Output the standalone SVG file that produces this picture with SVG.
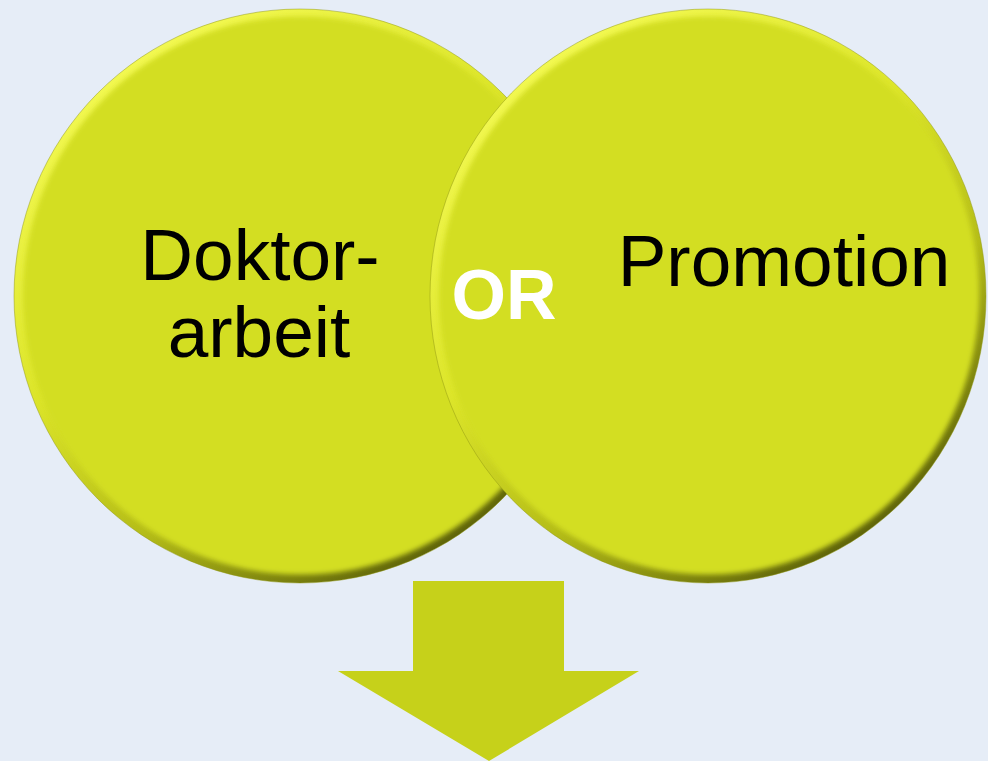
<svg xmlns="http://www.w3.org/2000/svg" width="988" height="761" viewBox="0 0 988 761">
  <defs>
    <linearGradient id="rim" x1="0.2" y1="0.05" x2="0.8" y2="0.95">
      <stop offset="0" stop-color="#F4FA55"/>
      <stop offset="0.4" stop-color="#DCE52A"/>
      <stop offset="0.68" stop-color="#B4BC18"/>
      <stop offset="1" stop-color="#545908"/>
    </linearGradient>
    <filter id="soft" x="-5%" y="-5%" width="110%" height="110%">
      <feGaussianBlur stdDeviation="2.5"/>
    </filter>
    <style>
      .rim { fill: url(#rim); stroke: #8F9510; stroke-width: 0.8; stroke-opacity: 0.6; }
      .face { fill: #D3DE22; filter: url(#soft); }
      .lbl { font-family: "Liberation Sans", Arial, sans-serif; font-size: 73px; fill: #000000; text-anchor: middle; }
      .or { font-family: "Liberation Sans", Arial, sans-serif; font-size: 70px; font-weight: bold; fill: #FFFFFF; text-anchor: middle; }
      .arrow { fill: #C6D11A; }
    </style>
  </defs>
  <rect x="0" y="0" width="988" height="761" fill="#E6EDF7"/>

  <g id="node-doktorarbeit">
    <ellipse class="rim" cx="300" cy="296" rx="286" ry="287"/>
    <ellipse class="face" cx="301" cy="295.5" rx="278" ry="279"/>
    <text class="lbl" x="260" y="280">Doktor-</text>
    <text class="lbl" x="259" y="357">arbeit</text>
  </g>

  <g id="node-promotion">
    <ellipse class="rim" cx="708" cy="296" rx="278" ry="287"/>
    <ellipse class="face" cx="709" cy="295.5" rx="270" ry="279"/>
    <text class="lbl" x="784" y="286">Promotion</text>
  </g>

  <g id="label-or">
    <text class="or" x="504" y="319">OR</text>
  </g>

  <g id="connectors">
    <polygon class="arrow" points="413,581 564,581 564,671 639,671 489,761 338,671 413,671"/>
  </g>
</svg>
